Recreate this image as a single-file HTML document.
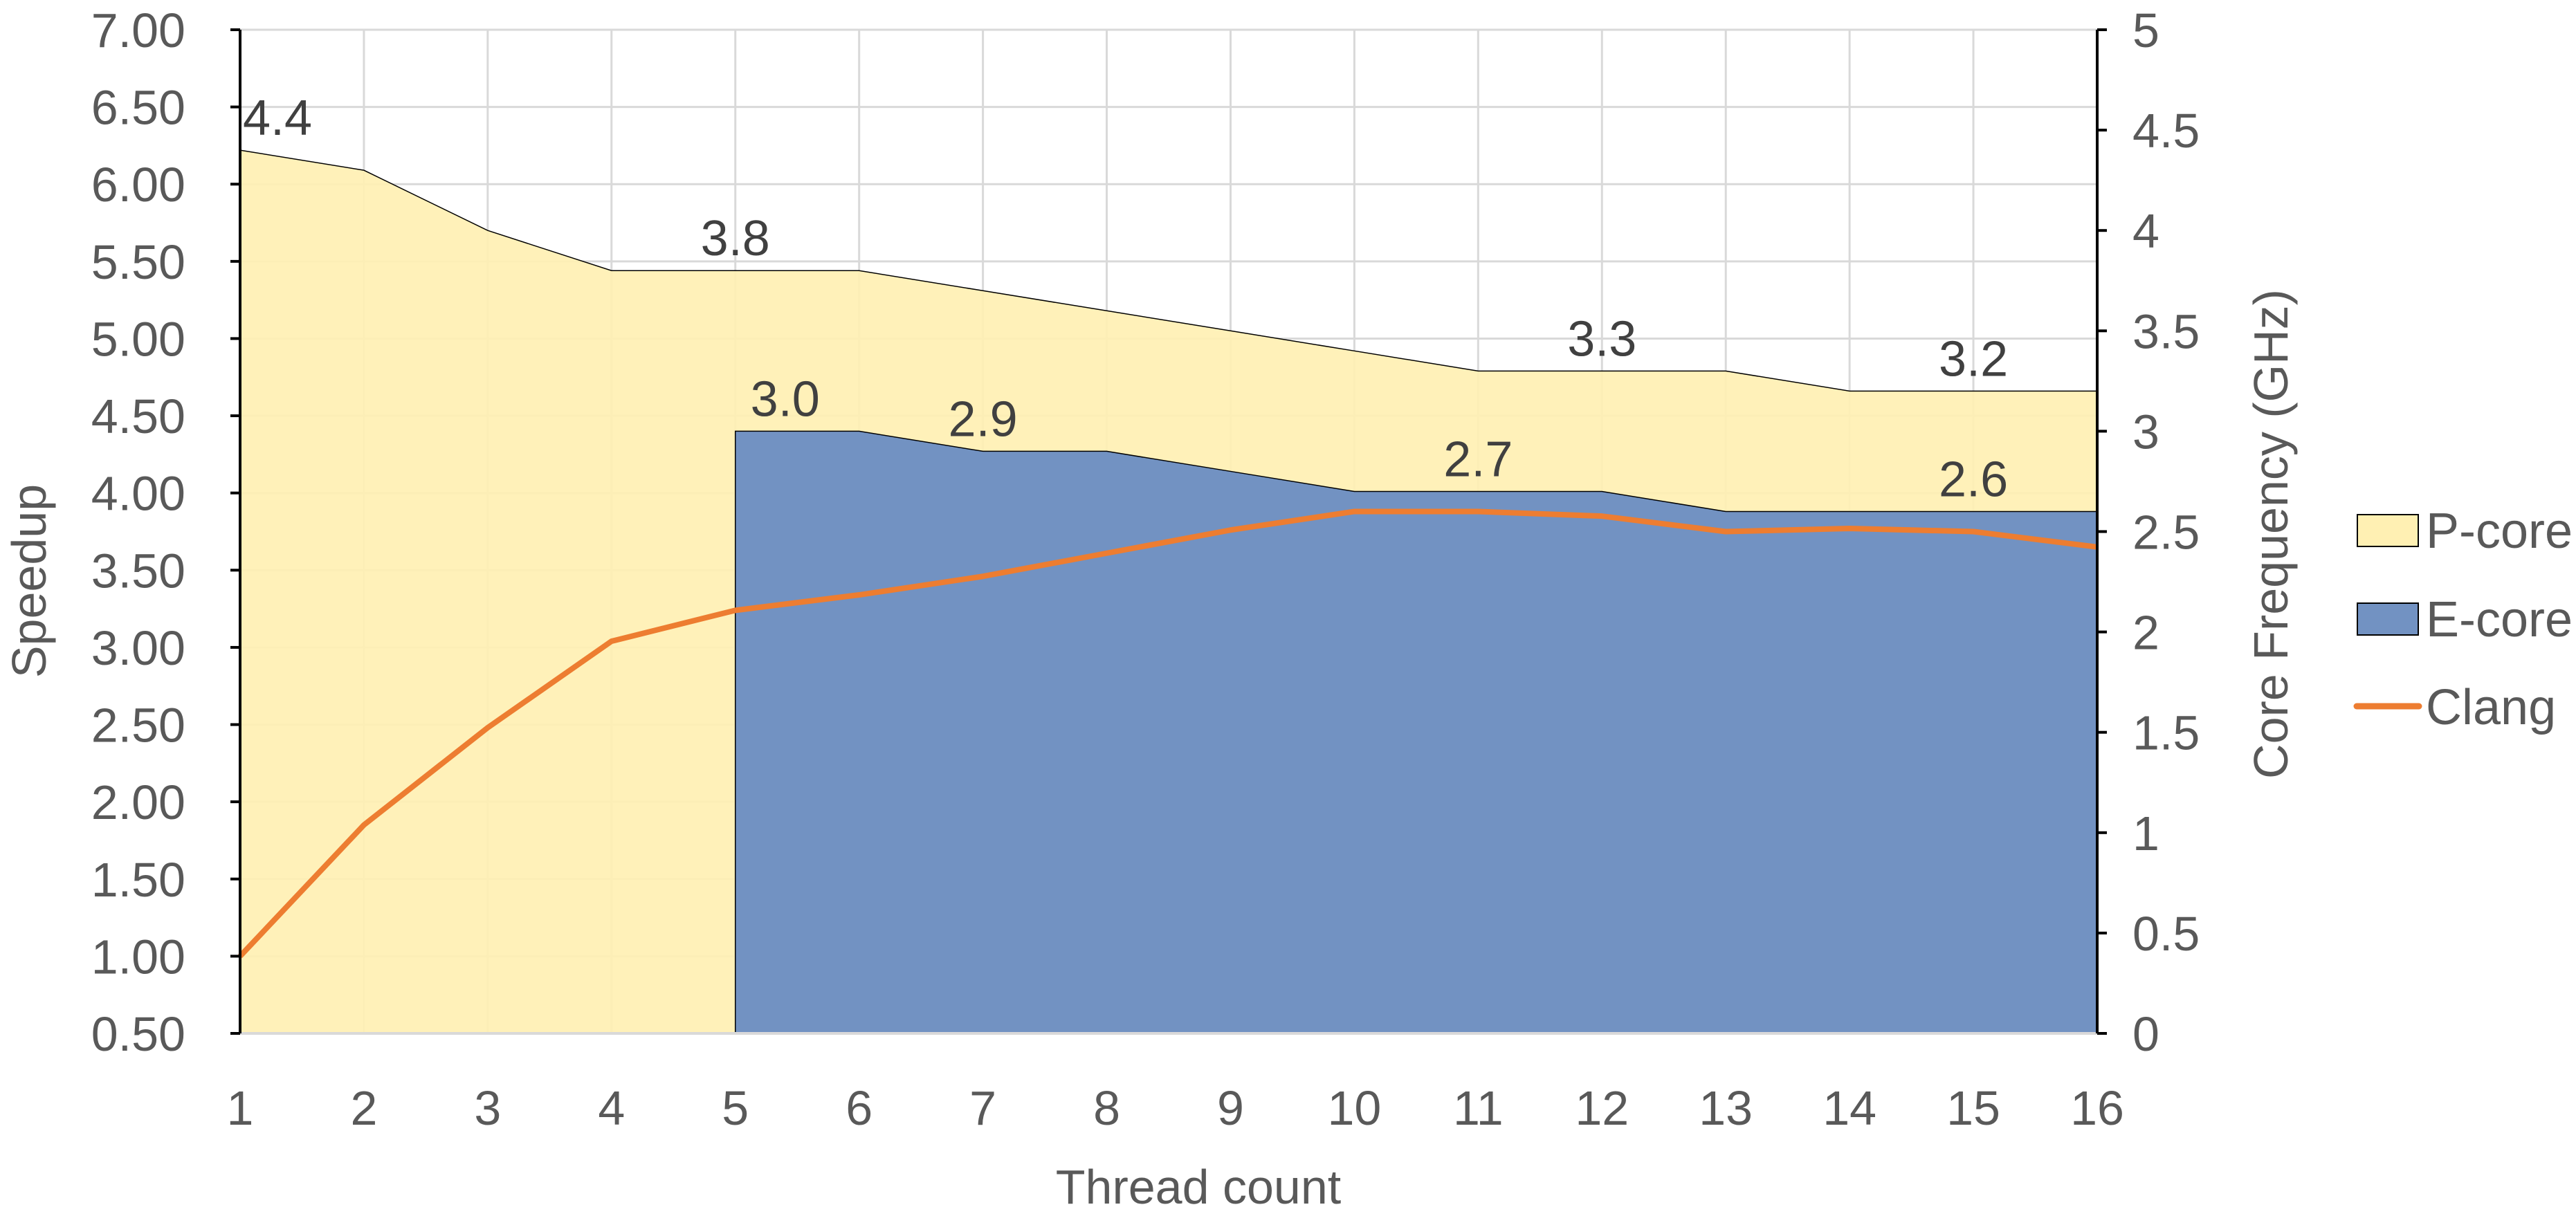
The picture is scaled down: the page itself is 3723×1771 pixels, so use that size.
<!DOCTYPE html>
<html><head><meta charset="utf-8"><style>
html,body{margin:0;padding:0;background:#fff;}
svg{display:block;font-family:"Liberation Sans",sans-serif;}
</style></head><body>
<svg id="chart" width="3723" height="1771" viewBox="0 0 3723 1771" xmlns="http://www.w3.org/2000/svg">
<g id="grid"></g>
<g id="areas"></g>
<g id="lines"></g>
<g id="axes"></g>
<g id="labels"></g>
<text transform="translate(66,840) rotate(-90)" text-anchor="middle" font-size="70" fill="#595959">Speedup</text>
<text transform="translate(3306,772) rotate(-90)" text-anchor="middle" font-size="70" fill="#595959">Core  Frequency (GHz)</text>
<text x="1732" y="1740" text-anchor="middle" font-size="70" fill="#595959">Thread count</text>
<g>
  <g>
    <rect x="3407" y="744" width="88" height="46" fill="#fff0b3" stroke="#000" stroke-width="2"/>
    <text x="3506" y="792" font-size="72" fill="#595959">P-core</text>
  </g>
  <g>
    <rect x="3407" y="872" width="88" height="46" fill="#7292c2" stroke="#000" stroke-width="2"/>
    <text x="3506" y="920" font-size="72" fill="#595959">E-core</text>
  </g>
  <g>
    <line x1="3406" y1="1021" x2="3496" y2="1021" stroke="#ed7d31" stroke-width="9" stroke-linecap="round"/>
    <text x="3506" y="1047" font-size="72" fill="#595959">Clang</text>
  </g>
</g>
</svg>
<script>
const categories = [1,2,3,4,5,6,7,8,9,10,11,12,13,14,15,16];
const pcoreGHz = [4.4,4.3,4.0,3.8,3.8,3.8,3.7,3.6,3.5,3.4,3.3,3.3,3.3,3.2,3.2,3.2];
const ecoreGHz = [null,null,null,null,3.0,3.0,2.9,2.9,2.8,2.7,2.7,2.7,2.6,2.6,2.6,2.6];
const clangSpeedup = [1.00,1.85,2.48,3.04,3.24,3.34,3.46,3.61,3.76,3.88,3.88,3.85,3.75,3.77,3.75,3.65];
const leftTicks = [0.5,1,1.5,2,2.5,3,3.5,4,4.5,5,5.5,6,6.5,7];
const rightTicks = [0,0.5,1,1.5,2,2.5,3,3.5,4,4.5,5];
const pLabelIdx = [0,4,11,14];
const eLabelIdx = [4,6,10,14];

const NS="http://www.w3.org/2000/svg";
const X0=347,X1=3031,Y0=1494,Y1=43;
const xs=i=>X0+(X1-X0)*i/(categories.length-1);
const yl=v=>Y0-(v-0.5)/(7-0.5)*(Y0-Y1);
const yr=v=>Y0-v/5*(Y0-Y1);
function mk(tag,attrs,parent){const e=document.createElementNS(NS,tag);for(const k in attrs)e.setAttribute(k,attrs[k]);parent.appendChild(e);return e;}
const grid=document.getElementById('grid'),areas=document.getElementById('areas'),lines=document.getElementById('lines'),axes=document.getElementById('axes'),labels=document.getElementById('labels');

leftTicks.forEach(v=>{const l=mk('line',{x1:X0,x2:X1,y1:yl(v),y2:yl(v),stroke:'#d9d9d9','stroke-width':3},grid);

});
categories.forEach((c,i)=>{const l=mk('line',{x1:xs(i),x2:xs(i),y1:Y1,y2:Y0,stroke:'#d9d9d9','stroke-width':3},grid);

});

let d='M'+xs(0)+','+Y0;
pcoreGHz.forEach((v,i)=>{d+=' L'+xs(i)+','+yr(v);});
d+=' L'+xs(pcoreGHz.length-1)+','+Y0+' Z';
const pa=mk('path',{d:d,fill:'#fff0b3','fill-opacity':0.92},areas);


let pl='';pcoreGHz.forEach((v,i)=>{pl+=(i?' L':'M')+xs(i)+','+yr(v);});
mk('path',{d:pl,fill:'none',stroke:'#000','stroke-width':1.5},areas);
const first=ecoreGHz.findIndex(v=>v!==null);
let ed='M'+xs(first)+','+Y0,el='';
ecoreGHz.forEach((v,i)=>{if(v===null)return;ed+=' L'+xs(i)+','+yr(v);el+=(el?' L':'M')+xs(i)+','+yr(v);});
ed+=' L'+xs(ecoreGHz.length-1)+','+Y0+' Z';
const ea=mk('path',{d:ed,fill:'#7292c2'},areas);


mk('path',{d:'M'+xs(first)+','+Y0+' L'+el.slice(1),fill:'none',stroke:'#000','stroke-width':1.5},areas);
let cd='';clangSpeedup.forEach((v,i)=>{cd+=(i?' L':'M')+xs(i)+','+yl(v);});
const cl=mk('path',{d:cd,fill:'none',stroke:'#ed7d31','stroke-width':8,'stroke-linejoin':'round'},lines);



mk('line',{x1:X0,x2:X1,y1:Y0,y2:Y0,stroke:'#d9d9d9','stroke-width':4},axes);
mk('line',{x1:X0,x2:X0,y1:Y1,y2:Y0,stroke:'#000','stroke-width':4},axes);
mk('line',{x1:X1,x2:X1,y1:Y1,y2:Y0,stroke:'#000','stroke-width':4},axes);
leftTicks.forEach(v=>{mk('line',{x1:X0-14,x2:X0,y1:yl(v),y2:yl(v),stroke:'#000','stroke-width':4},axes);
const t=mk('text',{x:268,y:yl(v)+25,'text-anchor':'end','font-size':70,fill:'#595959'},axes);t.textContent=v.toFixed(2);

});
rightTicks.forEach(v=>{mk('line',{x1:X1,x2:X1+14,y1:yr(v),y2:yr(v),stroke:'#000','stroke-width':4},axes);
const t=mk('text',{x:3082,y:yr(v)+25,'font-size':70,fill:'#595959'},axes);t.textContent=String(v);

});
categories.forEach((c,i)=>{const t=mk('text',{x:xs(i),y:1626,'text-anchor':'middle','font-size':70,fill:'#595959'},axes);t.textContent=String(c);

});

pLabelIdx.forEach(i=>{const anchor=i===0?'start':'middle';const t=mk('text',{x:i===0?xs(i)+4:xs(i),y:yr(pcoreGHz[i])-22,'text-anchor':anchor,'font-size':72,fill:'#404040'},labels);t.textContent=pcoreGHz[i].toFixed(1);

});
eLabelIdx.forEach(i=>{const t=mk('text',{x:xs(i)+ (i===4?72:0),y:yr(ecoreGHz[i])-22,'text-anchor':'middle','font-size':72,fill:'#404040'},labels);t.textContent=ecoreGHz[i].toFixed(1);

});
</script>
</body></html>
